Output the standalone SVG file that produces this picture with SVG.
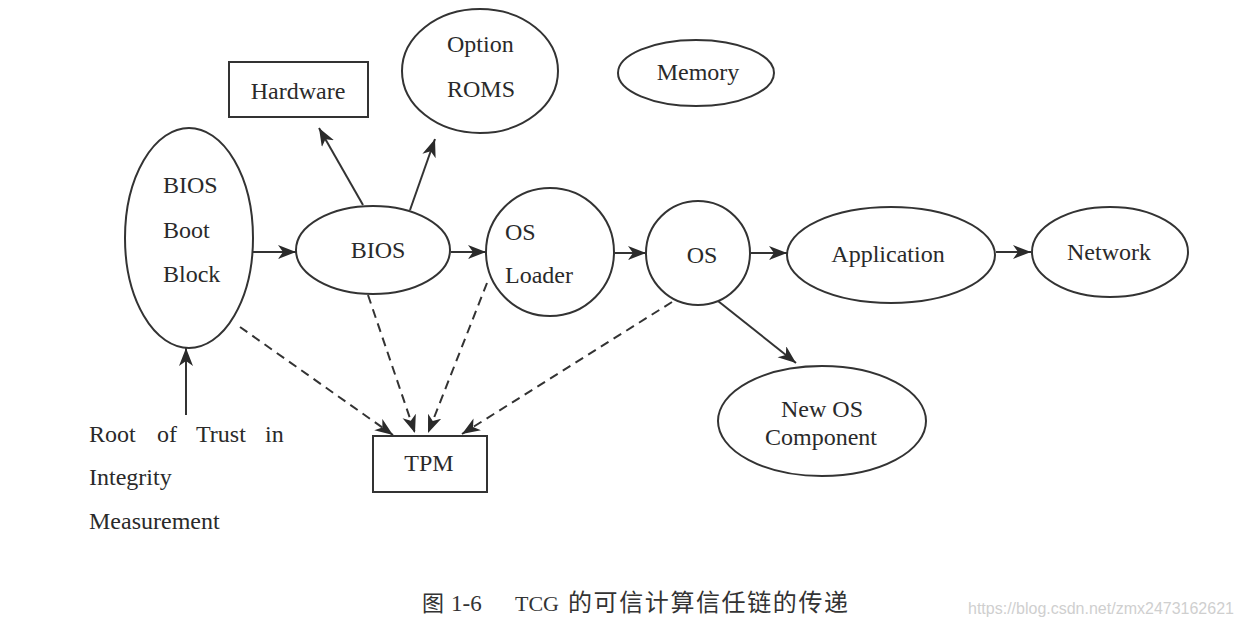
<svg xmlns="http://www.w3.org/2000/svg" width="1237" height="633" viewBox="0 0 1237 633">
<style>
.n{fill:none;stroke:#333;stroke-width:2}
.t{font-family:"Liberation Serif","Times New Roman",serif;font-size:24px;fill:#2a2a2a}
.c{text-anchor:middle}
.e{fill:none;stroke:#333;stroke-width:2}
.d{stroke-dasharray:9 6}
.cap{font-family:"Liberation Serif","Noto Sans CJK SC",serif;fill:#333}
</style>
<defs>
<marker id="ah" markerUnits="userSpaceOnUse" markerWidth="20" markerHeight="15" refX="18" refY="7" orient="auto">
<path d="M0,0 L18,7 L0,14 L5,7 z" fill="#2a2a2a"/>
</marker>
</defs>
<rect width="1237" height="633" fill="#fff"/>
<g id="bootblock">
<ellipse class="n" cx="189" cy="238" rx="64" ry="110"/>
<text class="t" x="163" y="193">BIOS</text>
<text class="t" x="163" y="238">Boot</text>
<text class="t" x="163" y="282">Block</text>
</g>
<g id="hardware">
<rect class="n" x="229" y="62" width="139" height="55"/>
<text class="t c" x="298" y="99">Hardware</text>
</g>
<g id="optionroms">
<ellipse class="n" cx="480" cy="71" rx="78" ry="62"/>
<text class="t" x="447" y="52">Option</text>
<text class="t" x="447" y="97">ROMS</text>
</g>
<g id="memory">
<ellipse class="n" cx="696" cy="73" rx="78" ry="33"/>
<text class="t c" x="698" y="80">Memory</text>
</g>
<g id="bios">
<ellipse class="n" cx="373" cy="250" rx="77" ry="44"/>
<text class="t c" x="378" y="258">BIOS</text>
</g>
<g id="osloader">
<circle class="n" cx="550" cy="252" r="64"/>
<text class="t" x="505" y="240">OS</text>
<text class="t" x="505" y="283">Loader</text>
</g>
<g id="os">
<circle class="n" cx="698" cy="253" r="52"/>
<text class="t c" x="702" y="263">OS</text>
</g>
<g id="application">
<ellipse class="n" cx="891" cy="255" rx="104" ry="48"/>
<text class="t c" x="888" y="262">Application</text>
</g>
<g id="network">
<ellipse class="n" cx="1110" cy="252" rx="78" ry="45"/>
<text class="t c" x="1109" y="260">Network</text>
</g>
<g id="newos">
<ellipse class="n" cx="822" cy="421" rx="104" ry="55"/>
<text class="t c" x="822" y="417">New OS</text>
<text class="t c" x="821" y="445">Component</text>
</g>
<g id="tpm">
<rect class="n" x="373" y="436" width="114" height="56"/>
<text class="t c" x="429" y="471">TPM</text>
</g>
<g id="root">
<text class="t" y="442"><tspan x="89">Root</tspan><tspan x="157">of</tspan><tspan x="196">Trust</tspan><tspan x="265">in</tspan></text>
<text class="t" x="89" y="485">Integrity</text>
<text class="t" x="89" y="529">Measurement</text>
</g>
<g id="connectors">
<line class="e" x1="253" y1="252" x2="296" y2="252" marker-end="url(#ah)"/>
<line class="e" x1="451" y1="252" x2="486" y2="252" marker-end="url(#ah)"/>
<line class="e" x1="615" y1="253" x2="646" y2="253" marker-end="url(#ah)"/>
<line class="e" x1="751" y1="253" x2="787" y2="253" marker-end="url(#ah)"/>
<line class="e" x1="996" y1="252" x2="1031" y2="252" marker-end="url(#ah)"/>
<line class="e" x1="363" y1="205" x2="319" y2="128" marker-end="url(#ah)"/>
<line class="e" x1="410" y1="210" x2="435" y2="139" marker-end="url(#ah)"/>
<line class="e" x1="718" y1="301" x2="796" y2="363" marker-end="url(#ah)"/>
<line class="e" x1="186" y1="415" x2="186" y2="348" marker-end="url(#ah)"/>
<line class="e d" x1="240" y1="327" x2="393" y2="435" marker-end="url(#ah)"/>
<line class="e d" x1="368" y1="295" x2="415" y2="433" marker-end="url(#ah)"/>
<line class="e d" x1="487" y1="283" x2="428" y2="433" marker-end="url(#ah)"/>
<line class="e d" x1="672" y1="302" x2="462" y2="434" marker-end="url(#ah)"/>
</g>
<g id="caption">
<text class="cap" y="611"><tspan x="422" font-size="22">图</tspan><tspan x="451" font-size="23">1-6</tspan><tspan x="515" font-size="22">TCG</tspan><tspan x="568" font-size="24" letter-spacing="1.6">的可信计算信任链的传递</tspan></text>
<text x="968" y="614" font-family="'Liberation Sans',Arial,sans-serif" font-size="16" fill="#cfcfcf">https://blog.csdn.net/zmx2473162621</text>
</g>
</svg>
